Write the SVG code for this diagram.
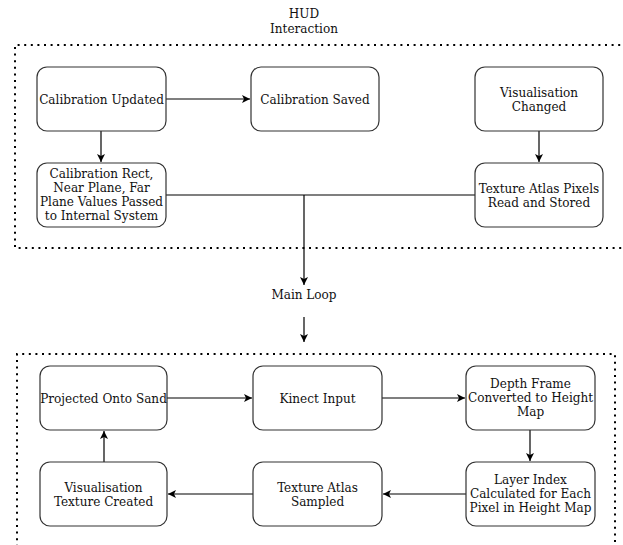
<svg xmlns="http://www.w3.org/2000/svg" width="623" height="545" viewBox="0 0 623 545">
<style>
  .box { fill: #ffffff; stroke: #333333; stroke-width: 1.2; }
  .frame { fill: none; stroke: #000000; stroke-width: 2; stroke-dasharray: 2 4.6; }
  .edge { fill: none; stroke: #000000; stroke-width: 1.2; }
  text { font-family: "DejaVu Serif Condensed", "DejaVu Serif", "Liberation Serif", serif; font-stretch: condensed; font-size: 13.4px; fill: #111111; text-anchor: middle; }
</style>
<defs>
  <marker id="arr" markerWidth="10" markerHeight="10" refX="8" refY="5" orient="auto" markerUnits="userSpaceOnUse">
    <path d="M0,1 L8,5 L0,9 L2,5 Z" fill="#000000"/>
  </marker>
</defs>
<rect width="623" height="545" fill="#ffffff"/>

<g id="frames">
  <path class="frame" d="M640,45 L15,45 L15,248 L640,248"/>
  <path class="frame" d="M17,560 L17,354 L615,354 L615,560"/>
</g>

<g id="title">
  <text x="304" y="18">HUD</text>
  <text x="304" y="32.5">Interaction</text>
</g>

<g id="connectors">
  <line class="edge" x1="166" y1="99" x2="250" y2="99" marker-end="url(#arr)"/>
  <line class="edge" x1="101" y1="131" x2="101" y2="162" marker-end="url(#arr)"/>
  <line class="edge" x1="539" y1="131" x2="539" y2="162" marker-end="url(#arr)"/>
  <line class="edge" x1="166" y1="195" x2="475" y2="195"/>
  <line class="edge" x1="304" y1="195" x2="304" y2="285" marker-end="url(#arr)"/>
  <line class="edge" x1="304" y1="317" x2="304" y2="342" marker-end="url(#arr)"/>
  <line class="edge" x1="167" y1="398" x2="252" y2="398" marker-end="url(#arr)"/>
  <line class="edge" x1="382" y1="398" x2="465" y2="398" marker-end="url(#arr)"/>
  <line class="edge" x1="530" y1="430" x2="530" y2="461" marker-end="url(#arr)"/>
  <line class="edge" x1="466" y1="494" x2="383" y2="494" marker-end="url(#arr)"/>
  <line class="edge" x1="253" y1="494" x2="168" y2="494" marker-end="url(#arr)"/>
  <line class="edge" x1="104" y1="462" x2="104" y2="431" marker-end="url(#arr)"/>
</g>

<g id="calibration-updated">
  <rect class="box" x="37" y="67" width="129" height="64" rx="10"/>
  <text x="101.5" y="103.5">Calibration Updated</text>
</g>
<g id="calibration-saved">
  <rect class="box" x="251" y="67" width="128" height="64" rx="10"/>
  <text x="315" y="103.5">Calibration Saved</text>
</g>
<g id="visualisation-changed">
  <rect class="box" x="475" y="67" width="128" height="64" rx="10"/>
  <text x="539" y="96.5">Visualisation</text>
  <text x="539" y="110.5">Changed</text>
</g>
<g id="calibration-rect">
  <rect class="box" x="37" y="163" width="129" height="64" rx="10"/>
  <text x="101.5" y="177.5">Calibration Rect,</text>
  <text x="101.5" y="191.5">Near Plane, Far</text>
  <text x="101.5" y="205.5">Plane Values Passed</text>
  <text x="101.5" y="219.5">to Internal System</text>
</g>
<g id="texture-atlas-pixels">
  <rect class="box" x="475" y="163" width="128" height="64" rx="10"/>
  <text x="539" y="192.5">Texture Atlas Pixels</text>
  <text x="539" y="206.5">Read and Stored</text>
</g>
<g id="main-loop">
  <text x="304" y="298.5">Main Loop</text>
</g>
<g id="projected-onto-sand">
  <rect class="box" x="40" y="366" width="127" height="64" rx="10"/>
  <text x="103.5" y="402.5">Projected Onto Sand</text>
</g>
<g id="kinect-input">
  <rect class="box" x="253" y="366" width="129" height="64" rx="10"/>
  <text x="317.5" y="402.5">Kinect Input</text>
</g>
<g id="depth-frame">
  <rect class="box" x="466" y="366" width="129" height="64" rx="10"/>
  <text x="530.5" y="387.5">Depth Frame</text>
  <text x="530.5" y="401.5">Converted to Height</text>
  <text x="530.5" y="415.5">Map</text>
</g>
<g id="layer-index">
  <rect class="box" x="466" y="462" width="129" height="64" rx="10"/>
  <text x="530.5" y="483.5">Layer Index</text>
  <text x="530.5" y="497.5">Calculated for Each</text>
  <text x="530.5" y="511.5">Pixel in Height Map</text>
</g>
<g id="texture-atlas-sampled">
  <rect class="box" x="253" y="462" width="129" height="64" rx="10"/>
  <text x="317.5" y="491.5">Texture Atlas</text>
  <text x="317.5" y="505.5">Sampled</text>
</g>
<g id="visualisation-texture">
  <rect class="box" x="40" y="462" width="127" height="64" rx="10"/>
  <text x="103.5" y="491.5">Visualisation</text>
  <text x="103.5" y="505.5">Texture Created</text>
</g>
</svg>
